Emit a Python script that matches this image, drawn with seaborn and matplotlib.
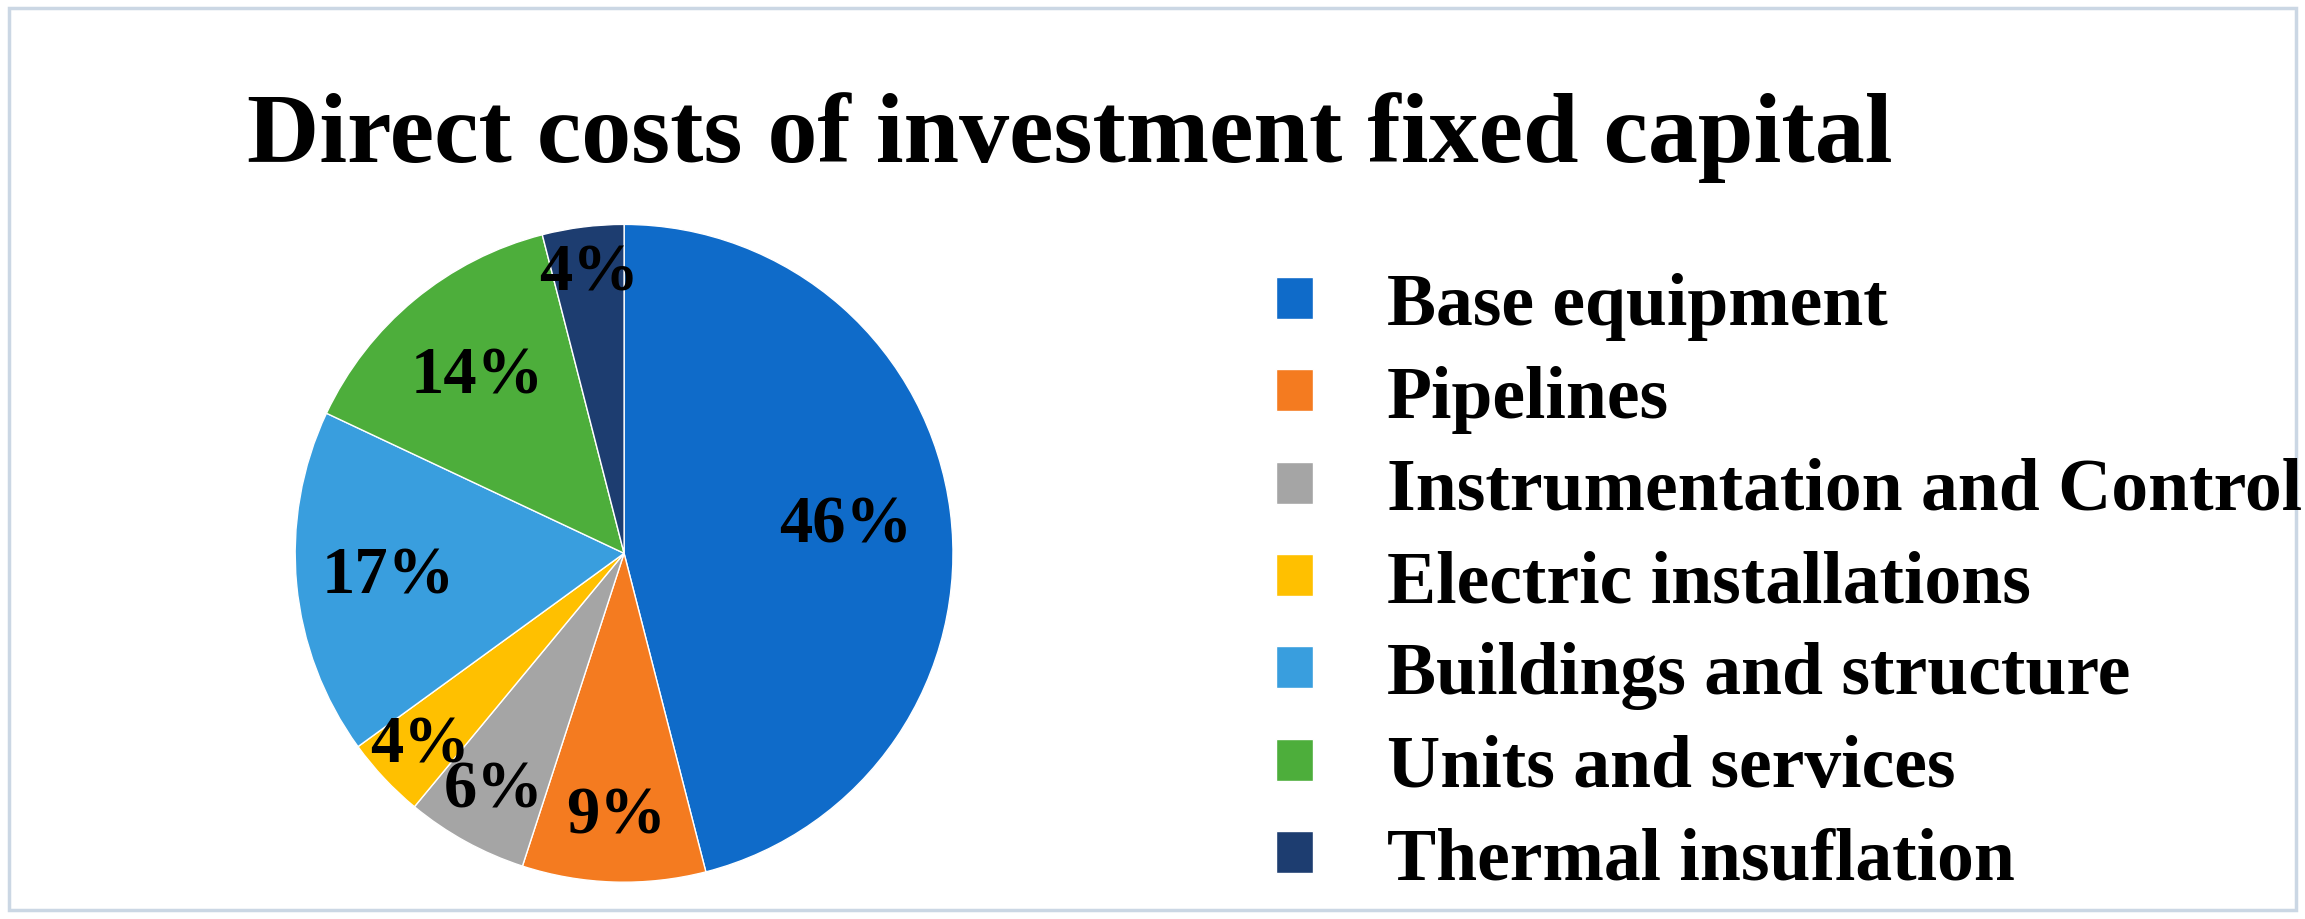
import matplotlib
matplotlib.use("Agg")
import matplotlib.pyplot as plt
import seaborn as sns
import numpy as np
from matplotlib.patches import Rectangle

sns.set_theme(style="white")
plt.rcParams["font.family"] = ["Liberation Serif", "DejaVu Serif"]

categories = ["Base equipment", "Pipelines", "Instrumentation and Control",
              "Electric installations", "Buildings and structure",
              "Units and services", "Thermal insuflation"]
shares = [46, 9, 6, 4, 17, 14, 4]
colors = ["#0F6BC9", "#F47B20", "#A5A5A5", "#FFC000", "#399EDE", "#4DAE3B", "#1D3D70"]
label_dist = [0.68, 0.8, 0.82, 0.85, 0.72, 0.7, 0.86]

fig = plt.figure(figsize=(23.05, 9.2), dpi=100)
fig.patch.set_facecolor("white")
fig.add_artist(Rectangle((0.004, 0.01), 0.992, 0.98, transform=fig.transFigure,
                         fill=False, edgecolor="#CBD7E4", linewidth=2.5))

ax = fig.add_axes([0.128, 0.04, 0.2855, 0.715])
wedges, _ = ax.pie(shares, colors=colors, startangle=90, counterclock=False,
                   wedgeprops=dict(edgecolor="white", linewidth=1))
for w, v, d in zip(wedges, shares, label_dist):
    ang = np.deg2rad((w.theta1 + w.theta2) / 2)
    ax.text(d * np.cos(ang), d * np.sin(ang), f"{v}%", ha="center", va="center",
            fontsize=48, fontweight="bold", color="black")
ax.set_xlim(-1.0, 1.0)
ax.set_ylim(-1.0, 1.0)
ax.set_aspect("equal")

fig.text(0.464, 0.85, "Direct costs of investment fixed capital", ha="center",
         va="center", fontsize=72, fontweight="bold", color="black")

leg = fig.legend(wedges, categories, loc="upper left", bbox_to_anchor=(0.525, 0.775),
                 frameon=False, prop=dict(size=53, weight="bold"),
                 handlelength=0.5, handleheight=0.5, handletextpad=1.0,
                 labelspacing=0.33)
for t in leg.get_texts():
    t.set_color("black")

fig.savefig("out.png", dpi=100)
